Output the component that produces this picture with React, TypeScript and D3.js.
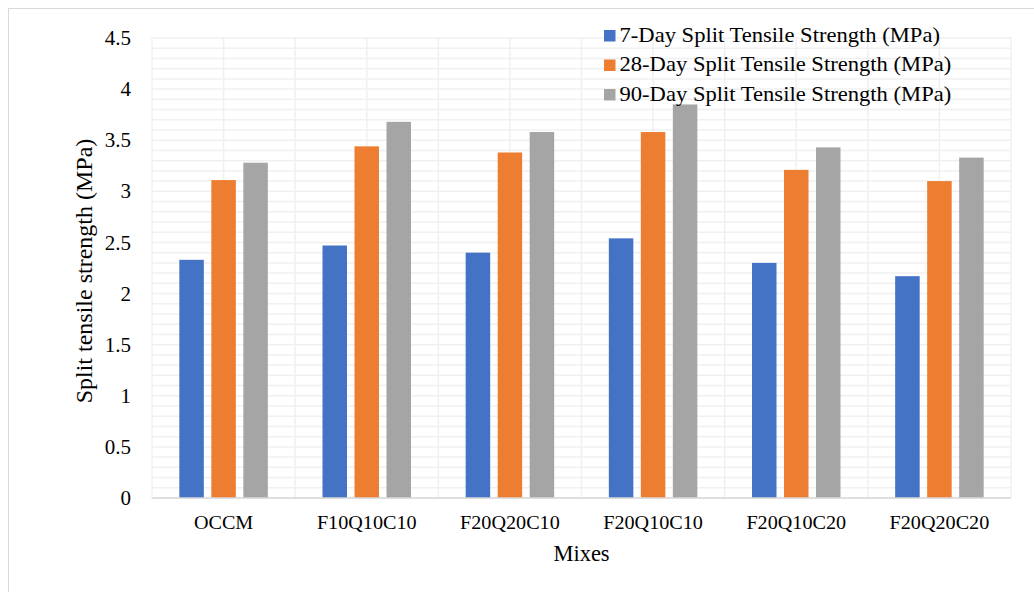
import React from "react";
import * as d3 from "d3";

const mixes = ["OCCM", "F10Q10C10", "F20Q20C10", "F20Q10C10", "F20Q10C20", "F20Q20C20"];
const day7 = [2.33, 2.47, 2.40, 2.54, 2.30, 2.17];
const day28 = [3.11, 3.44, 3.38, 3.58, 3.21, 3.10];
const day90 = [3.28, 3.68, 3.58, 3.85, 3.43, 3.33];
const seriesNames = [
  "7-Day Split Tensile Strength (MPa)",
  "28-Day Split Tensile Strength (MPa)",
  "90-Day Split Tensile Strength (MPa)",
];
const seriesColors = ["#4472c4", "#ed7d31", "#a5a5a5"];
const yTicks = [0, 0.5, 1, 1.5, 2, 2.5, 3, 3.5, 4, 4.5];

const W = 1034;
const H = 592;
const plot = { left: 152, right: 1011, top: 38, bottom: 498 };
const FONT = "'Liberation Serif', 'Times New Roman', serif";

export default function App() {
  const series = [day7, day28, day90];
  const x = d3.scaleBand<string>().domain(mixes).range([plot.left, plot.right]).paddingInner(0).paddingOuter(0);
  const y = d3.scaleLinear().domain([0, 4.5]).range([plot.bottom, plot.top]);
  const band = x.bandwidth();
  const barW = 24.5;
  const gap = 7.5;
  const groupW = barW * 3 + gap * 2;
  const minorTicks = d3.range(0, 46).map((i) => i / 10);
  const vLines = d3.range(0, mixes.length * 2 + 1).map((i) => plot.left + (i * band) / 2);

  return (
    <svg width={W} height={H} style={{ position: "absolute", left: 0, top: 0, background: "#fff" }}>
      <rect x={8.5} y={8.5} width={W + 10} height={H + 10} fill="#fff" stroke="#d9d9d9" strokeWidth={1} />
      {/* gridlines: every 0.1 MPa, plus category centres and boundaries */}
      <g stroke="#f0f0f0" strokeWidth={1.5}>
        {minorTicks.map((t, i) => (
          <line key={"h" + i} x1={plot.left} x2={plot.right} y1={y(t)} y2={y(t)} />
        ))}
        {vLines.map((vx, i) => (
          <line key={"v" + i} x1={vx} x2={vx} y1={plot.top} y2={plot.bottom} />
        ))}
      </g>
      {/* bars */}
      {series.map((vals, si) => (
        <g key={si} fill={seriesColors[si]}>
          {vals.map((v, i) => {
            const x0 = (x(mixes[i]) as number) + (band - groupW) / 2 + si * (barW + gap);
            return <rect key={i} x={x0} y={y(v)} width={barW} height={y(0) - y(v)} />;
          })}
        </g>
      ))}
      <line x1={plot.left} x2={plot.right} y1={plot.bottom} y2={plot.bottom} stroke="#d9d9d9" strokeWidth={1.5} />
      {/* y tick labels */}
      <g fontFamily={FONT} fontSize={21} fill="#000" textAnchor="end">
        {yTicks.map((t) => (
          <text key={t} x={131} y={y(t)} dy="0.34em">
            {String(t)}
          </text>
        ))}
      </g>
      {/* category labels */}
      <g fontFamily={FONT} fontSize={18} fill="#000" textAnchor="middle">
        {mixes.map((m) => (
          <text key={m} transform={`translate(${(x(m) as number) + band / 2},529) scale(1.12,1)`}>
            {m}
          </text>
        ))}
      </g>
      <text x={(plot.left + plot.right) / 2} y={561} fontFamily={FONT} fontSize={22.5} textAnchor="middle">
        Mixes
      </text>
      <text
        transform={`translate(92,${(plot.top + plot.bottom) / 2 + 3}) rotate(-90)`}
        fontFamily={FONT}
        fontSize={24}
        textAnchor="middle"
      >
        Split tensile strength (MPa)
      </text>
      {/* legend */}
      <g fontFamily={FONT} fontSize={20}>
        {seriesNames.map((n, i) => (
          <g key={n} transform={`translate(604,${30 + i * 29.5})`}>
            <rect x={0} y={0} width={11.5} height={11.5} fill={seriesColors[i]} />
            <text transform="translate(15.5,11.8) scale(1.13,1)">{n}</text>
          </g>
        ))}
      </g>
    </svg>
  );
}
